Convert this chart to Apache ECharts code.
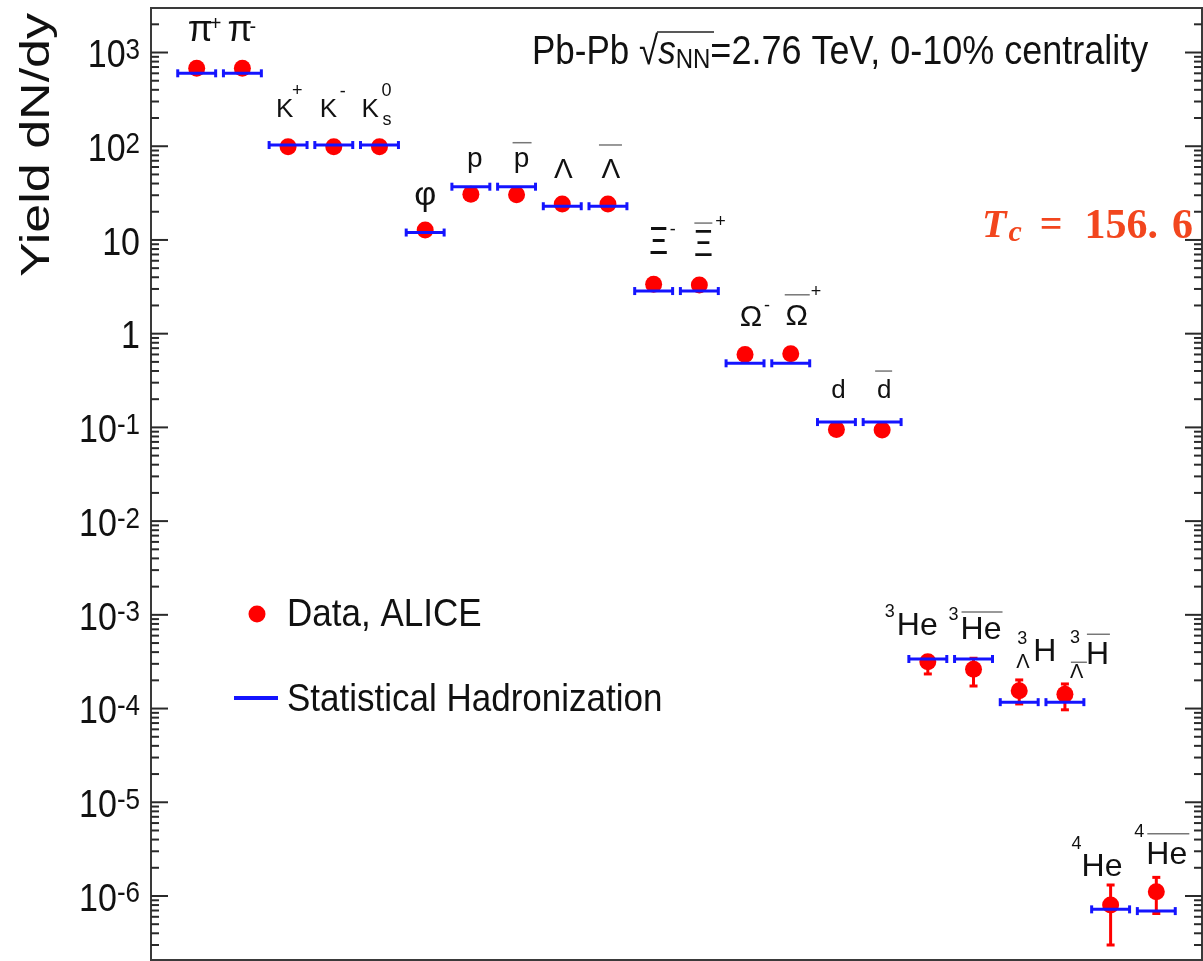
<!DOCTYPE html>
<html>
<head>
<meta charset="utf-8">
<script src="https://cdn.jsdelivr.net/npm/echarts@6/dist/echarts.min.js"></script>
<style>
  html, body { margin: 0; padding: 0; background: #fff; }
  #chart { width: 1203px; height: 961px; }
</style>
</head>
<body>
<div id="chart"></div>
<script>
// particle species, one slot each on the x axis (1..22)
const particles = ['π⁺', 'π⁻', 'K⁺', 'K⁻', 'K⁰s', 'φ', 'p', 'p̄', 'Λ', 'Λ̄', 'Ξ⁻', 'Ξ̄⁺', 'Ω⁻', 'Ω̄⁺',
  'd', 'd̄', '³He', '³H̄e', '³ΛH', '³Λ̄H̄', '⁴He', '⁴H̄e']
// measured yields (ALICE)
const dataYield = [680, 680, 99, 99, 99, 12.8, 30.7, 30.4, 24.2, 24.2, 3.36, 3.3, 0.60, 0.61,
  0.095, 0.094, 3.16e-4, 2.62e-4, 1.55e-4, 1.42e-4, 8.0e-7, 1.11e-6]
const dataErrLow = [null, null, null, null, null, null, null, null, null, null, null, null, null, null,
  null, null, 2.34e-4, 1.74e-4, 1.12e-4, 9.7e-5, 3.0e-7, 6.5e-7]
const dataErrHigh = [null, null, null, null, null, null, null, null, null, null, null, null, null, null,
  null, null, 3.64e-4, 3.44e-4, 2.02e-4, 1.83e-4, 1.31e-6, 1.58e-6]
// statistical hadronization model
const modelYield = [600, 600, 103, 103, 103, 12.0, 37, 37, 22.9, 22.9, 2.85, 2.85, 0.483, 0.483,
  0.114, 0.114, 3.38e-4, 3.38e-4, 1.17e-4, 1.17e-4, 7.2e-7, 6.9e-7]
// labelled decades on the y axis
const yExponents = [-6, -5, -4, -3, -2, -1, 0, 1, 2, 3]

const FONT = '"Liberation Sans", Arial, sans-serif'
const SERIF = '"Liberation Serif", "DejaVu Serif", serif'
const RED = '#ff0000'
const BLUE = '#1414ff'
const TC_COLOR = '#f2461e'
const Y_MIN = Math.pow(10, -6.683)
const Y_MAX = Math.pow(10, 3.475)

// hand placed particle labels: [text, dx, dy from top of marks, fontSize, align, scaleY], overlines [x1, x2, dy]
const labelLayout = [
  { parts: [['π', -9, -29, 36], ['+', 13, -36, 20]] },
  { parts: [['π', -15, -29, 36], ['-', 7, -33, 20]] },
  { parts: [['K', -12, -29, 26], ['+', 4, -48, 18]] },
  { parts: [['K', -14, -29, 26], ['-', 6, -47, 18]] },
  { parts: [['K', -18, -29, 26], ['0', 2, -48, 18], ['s', 3, -19, 18]] },
  { parts: [['φ', 0, -26, 34, 'center']] },
  { parts: [['p', 4, -25, 28, 'center']] },
  { parts: [['p', 5, -25, 28, 'center']], bars: [[-4, 15, -42]] },
  { parts: [['Λ', 1, -26, 28, 'center']] },
  { parts: [['Λ', 3, -26, 28, 'center']], bars: [[-9, 14, -51]] },
  { parts: [['Ξ', 5, -33, 29, 'center', 1.35], ['-', 16, -46, 18]] },
  { parts: [['Ξ', 4, -31, 29, 'center', 1.3], ['+', 16, -55, 18]], bars: [[-5, 13, -54]] },
  { parts: [['Ω', 6, -29, 30, 'center'], ['-', 19, -40, 18]] },
  { parts: [['Ω', 6, -29, 30, 'center'], ['+', 20, -54, 18]], bars: [[-6, 19, -51]] },
  { parts: [['d', 2, -29, 26, 'center']] },
  { parts: [['d', 2, -29, 26, 'center']], bars: [[-7, 10, -49]] },
  { parts: [['3', -43, -42, 18], ['He', -31, -28, 32]] },
  { parts: [['3', -25, -42, 18], ['He', -13, -27, 32]], bars: [[-12, 29, -45]] },
  { parts: [['3', -2, -44, 18], ['Λ', -3, -20, 20], ['H', 14, -31, 32]] },
  { parts: [['3', 5, -48, 18], ['Λ', 5, -14, 20], ['H', 21, -31, 32]], bars: [[6, 22, -24], [22, 45, -52]] },
  { parts: [['4', -39, -53, 18], ['He', -29, -30, 32]] },
  { parts: [['4', -22, -52, 18], ['He', -10, -29, 32]], bars: [[-9, 33, -50]] }
]

const chart = echarts.init(document.getElementById('chart'))

// log-spaced ticks (1..9 per decade) for both vertical frame sides
const tickData = []
for (let e = -7; e <= 3; e++) {
  for (let k = 1; k <= 9; k++) {
    const v = k * Math.pow(10, e)
    if (v > Y_MIN && v < Y_MAX) tickData.push([0, v, k === 1 ? 1 : 0])
  }
}

const option = {
  animation: false,
  backgroundColor: '#fff',
  grid: {
    left: 151, right: 1, top: 8, bottom: 1,
    show: true, borderColor: '#3a3a3a', borderWidth: 2,
    outerBoundsMode: 'none'
  },
  xAxis: {
    type: 'value', min: 0, max: 23, show: false
  },
  yAxis: {
    type: 'log',
    logBase: 10,
    min: Y_MIN,
    max: Y_MAX,
    axisLine: { show: false },
    axisTick: { show: false },
    axisLabel: { show: false },
    splitLine: { show: false }
  },
  series: [
    {
      // frame ticks
      type: 'custom',
      silent: true,
      data: tickData,
      encode: { x: 0, y: 1 },
      z: 1,
      renderItem(params, api) {
        const v = api.value(1)
        const len = api.value(2) ? 17 : 8
        const l = api.coord([0, v])
        const r = api.coord([23, v])
        const st = { stroke: '#2a2a2a', lineWidth: 2 }
        return {
          type: 'group',
          children: [
            { type: 'line', shape: { x1: l[0], y1: l[1], x2: l[0] + len, y2: l[1] }, style: st },
            { type: 'line', shape: { x1: r[0] - len, y1: r[1], x2: r[0], y2: r[1] }, style: st }
          ]
        }
      }
    },
    {
      // decade labels of the y axis
      type: 'custom',
      silent: true,
      data: yExponents.map(e => [0, Math.pow(10, e), e]),
      encode: { x: 0, y: 1 },
      clip: false,
      z: 1,
      renderItem(params, api) {
        const e = api.value(2)
        const p = api.coord([0, api.value(1)])
        let text = '{b|10}{e|' + e + '}'
        if (e === 0) text = '{b|1}'
        if (e === 1) text = '{b|10}'
        return {
          type: 'text',
          x: p[0] - 11,
          y: p[1] + 4,
          scaleY: 1.15,
          style: {
            text: text,
            align: 'right',
            verticalAlign: 'middle',
            rich: {
              b: { fontSize: 34, fontFamily: FONT, fill: '#111', lineHeight: 36 },
              e: { fontSize: 26, fontFamily: FONT, fill: '#111', verticalAlign: 'top', lineHeight: 26 }
            }
          }
        }
      }
    },
    {
      name: 'Data, ALICE (errors)',
      type: 'custom',
      data: dataYield.map((v, i) => [i + 1, dataErrLow[i], dataErrHigh[i]]).filter(d => d[1] != null),
      encode: { x: 0, y: [1, 2] },
      z: 2,
      renderItem(params, api) {
        const lo = api.coord([api.value(0), api.value(1)])
        const hi = api.coord([api.value(0), api.value(2)])
        const st = { stroke: RED, lineWidth: 3 }
        return {
          type: 'group',
          children: [
            { type: 'line', shape: { x1: lo[0], y1: lo[1], x2: hi[0], y2: hi[1] }, style: st },
            { type: 'line', shape: { x1: lo[0] - 4, y1: lo[1], x2: lo[0] + 4, y2: lo[1] }, style: st },
            { type: 'line', shape: { x1: hi[0] - 4, y1: hi[1], x2: hi[0] + 4, y2: hi[1] }, style: st }
          ]
        }
      }
    },
    {
      name: 'Data, ALICE',
      type: 'scatter',
      data: dataYield.map((v, i) => ({ name: particles[i], value: [i + 1, v] })),
      symbol: 'circle',
      symbolSize: 17,
      itemStyle: { color: RED, opacity: 1 },
      z: 3
    },
    {
      name: 'Statistical Hadronization',
      type: 'custom',
      data: modelYield.map((v, i) => ({ name: particles[i], value: [i + 1, v] })),
      encode: { x: 0, y: 1 },
      z: 4,
      renderItem(params, api) {
        const x = api.value(0)
        const y = api.value(1)
        const a = api.coord([x - 0.415, y])
        const b = api.coord([x + 0.415, y])
        const st = { stroke: BLUE, lineWidth: 3 }
        return {
          type: 'group',
          children: [
            { type: 'line', shape: { x1: a[0], y1: a[1], x2: b[0], y2: b[1] }, style: st },
            { type: 'line', shape: { x1: a[0], y1: a[1] - 4, x2: a[0], y2: a[1] + 4 }, style: st },
            { type: 'line', shape: { x1: b[0], y1: b[1] - 4, x2: b[0], y2: b[1] + 4 }, style: st }
          ]
        }
      }
    }
  ]
}

chart.setOption(option)

function textEl(text, x, y, size, align, extra) {
  return Object.assign({
    type: 'text', x: x, y: y, z: 10,
    style: {
      text: text, fontSize: size, fontFamily: FONT, fill: '#111',
      textAlign: align || 'left', textVerticalAlign: 'middle',
      align: align || 'left', verticalAlign: 'middle'
    }
  }, extra || {})
}

// particle labels, placed from the plotted marks
const graphics = []
labelLayout.forEach((lab, i) => {
  const pd = chart.convertToPixel({ gridIndex: 0 }, [i + 1, dataYield[i]])
  const pm = chart.convertToPixel({ gridIndex: 0 }, [i + 1, modelYield[i]])
  const x0 = pd[0]
  const top = Math.min(pd[1] - 8, pm[1] - 2)
  lab.parts.forEach(p => graphics.push(textEl(p[0], x0 + p[1], top + p[2], p[3], p[4], { scaleY: p[5] || 1 })))
  ;(lab.bars || []).forEach(b => graphics.push({
    type: 'line', z: 10,
    shape: { x1: x0 + b[0], y1: top + b[2], x2: x0 + b[1], y2: top + b[2] },
    style: { stroke: '#777', lineWidth: 1.5 }
  }))
})

// y axis title
graphics.push(textEl('Yield dN/dy', 38, 145, 40, 'center', { rotation: Math.PI / 2, scaleX: 1.3 }))

// header text
graphics.push({
  type: 'text', x: 532, y: 53, z: 10, scaleY: 1.15,
  style: {
    text: '{a|Pb-Pb }{r|√}{i|s}{n|NN}{z|=2.76 TeV, 0-10% centrality}',
    textAlign: 'left', textVerticalAlign: 'middle', align: 'left', verticalAlign: 'middle',
    rich: {
      a: { fontSize: 35, fontFamily: FONT, fill: '#111' },
      r: { fontSize: 35, fontFamily: FONT, fill: '#111' },
      i: { fontSize: 35, fontFamily: FONT, fontStyle: 'italic', fill: '#111' },
      n: { fontSize: 24, fontFamily: FONT, fill: '#111', verticalAlign: 'bottom' },
      z: { fontSize: 36, fontFamily: FONT, fill: '#111' }
    }
  }
})
graphics.push({
  type: 'line', z: 10,
  shape: { x1: 657, y1: 32, x2: 714, y2: 32 },
  style: { stroke: '#222', lineWidth: 1.5 }
})

// T_c annotation
graphics.push({
  type: 'text', x: 982, y: 227, z: 10,
  style: {
    text: '{t|T}{c|c}{q|=}{n|156.}{m|6}',
    textAlign: 'left', textVerticalAlign: 'middle', align: 'left', verticalAlign: 'middle',
    rich: {
      t: { fontSize: 40, fontFamily: SERIF, fontWeight: 'bold', fontStyle: 'italic', fill: TC_COLOR },
      c: { fontSize: 30, fontFamily: SERIF, fontWeight: 'bold', fontStyle: 'italic', fill: TC_COLOR, verticalAlign: 'bottom', padding: [0, 18, 0, 2] },
      q: { fontSize: 40, fontFamily: SERIF, fontWeight: 'bold', fill: TC_COLOR, padding: [0, 22, 0, 0] },
      n: { fontSize: 42, fontFamily: SERIF, fontWeight: 'bold', fill: TC_COLOR },
      m: { fontSize: 42, fontFamily: SERIF, fontWeight: 'bold', fill: TC_COLOR, padding: [0, 0, 0, 14] }
    }
  }
})

// legend
graphics.push({ type: 'circle', z: 10, shape: { cx: 257, cy: 614, r: 8.5 }, style: { fill: RED } })
graphics.push(textEl('Data, ALICE', 287, 615, 35, 'left', { scaleY: 1.12 }))
graphics.push({ type: 'line', z: 10, shape: { x1: 234, y1: 698, x2: 278, y2: 698 }, style: { stroke: BLUE, lineWidth: 4 } })
graphics.push(textEl('Statistical Hadronization', 287, 700, 35, 'left', { scaleY: 1.12 }))

chart.setOption({ graphic: graphics })
</script>
</body>
</html>
